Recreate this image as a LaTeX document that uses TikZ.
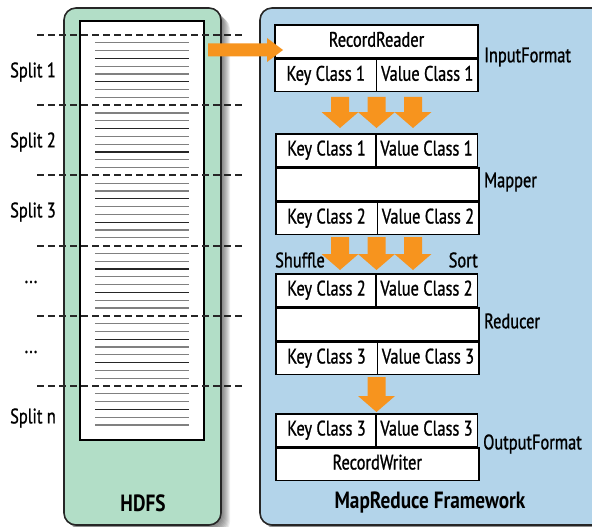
\documentclass[tikz,border=0pt]{standalone}
\usepackage{fontspec}
\setmainfont{PT Sans}[FakeStretch=0.78,FakeBold=1]
\newfontfamily\titlefont{PT Sans Bold}[FakeStretch=0.82]
\usetikzlibrary{calc}
\definecolor{hgreen}{HTML}{B2DEC7}
\definecolor{mblue}{HTML}{B3D4EA}
\definecolor{morange}{HTML}{F7941E}
\begin{document}
\begin{tikzpicture}[x=1pt,y=-1pt,
  font=\fontsize{21}{24}\selectfont,
  frame/.style={draw=black!85, line width=1.6, rounded corners=12},
  cell/.style={draw=black, line width=1.5, fill=white, inner sep=0, minimum height=32.5, text height=14, text depth=3},
  half/.style={cell, minimum width=101.5},
  wide/.style={cell, minimum width=203},
  side/.style={anchor=west, inner sep=0},
  splitlbl/.style={inner sep=0},
  split/.style={draw=black!85, line width=2, dash pattern=on 7 off 4},
  txtline/.style={line width=1.3},
  blockarrow/.style={fill=morange, draw=none},
  title/.style={font=\fontsize{23.5}{26}\titlefont, inner sep=0}
]
\useasboundingbox (0,0) rectangle (592,527);
\clip (0,0) rectangle (592,527);

% shadows
\foreach \i in {1,...,9}{
  \fill[black, opacity=0.07, rounded corners=12] (64+\i,8+\i) rectangle (221+\i,525+\i);
  \fill[black, opacity=0.07, rounded corners=12] (260+\i,8+\i) rectangle (640+\i,525+\i);
}

% containers
\draw[frame, fill=hgreen] (64,8) rectangle (221,525);
\draw[frame, fill=mblue] (260,8) rectangle (640,525);

% HDFS paper
\node[draw=black, line width=1.5, fill=white, minimum width=124, minimum height=419, inner sep=0] (paper) at (142,230.5) {};
\foreach \k in {1,...,50}{
  \pgfmathtruncatemacro{\r}{mod(\k,9)}
  \pgfmathtruncatemacro{\c}{mod(\k,3)}
  \ifnum\r>0
    \ifnum\c=0
      \draw[txtline, black!85] (95,{35+\k*7.8}) -- (189,{35+\k*7.8});
    \else
      \draw[txtline, black!50] (95,{35+\k*7.8}) -- (189,{35+\k*7.8});
    \fi
  \fi
}

% split lines and labels
\foreach \y in {35,105.2,175.4,245.6,315.8,386}{
  \draw[split] (37,\y) -- (245,\y);
}
\node[splitlbl] (s1) at (33,72) {Split 1};
\node[splitlbl] (s2) at (33,142) {Split 2};
\node[splitlbl] (s3) at (33,212) {Split 3};
\node[splitlbl] (s4) at (31,282) {...};
\node[splitlbl] (s5) at (31,352) {...};
\node[splitlbl] (sn) at (33,418) {Split n};

% InputFormat
\node[wide] (rr) at (376.5,41.25) {RecordReader};
\node[half, anchor=north west] (k1a) at (rr.south west) {Key Class 1};
\node[half, anchor=north east] (v1a) at (rr.south east) {Value Class 1};
\node[side] (inf) at (484,57) {InputFormat};

% Mapper
\node[half, anchor=north west] (k1b) at (275,133) {Key Class 1};
\node[half, anchor=north east] (v1b) at (478,133) {Value Class 1};
\node[wide, anchor=north west] (map) at (k1b.south west) {};
\node[half, anchor=north west] (k2a) at (map.south west) {Key Class 2};
\node[half, anchor=north east] (v2a) at (map.south east) {Value Class 2};
\node[side] (mapl) at (484,182) {Mapper};

% Reducer
\node[half, anchor=north west] (k2b) at (275,273) {Key Class 2};
\node[half, anchor=north east] (v2b) at (478,273) {Value Class 2};
\node[wide, anchor=north west] (red) at (k2b.south west) {};
\node[half, anchor=north west] (k3a) at (red.south west) {Key Class 3};
\node[half, anchor=north east] (v3a) at (red.south east) {Value Class 3};
\node[side] (redl) at (484,321) {Reducer};

% OutputFormat
\node[half, anchor=north west] (k3b) at (275,413) {Key Class 3};
\node[half, anchor=north east] (v3b) at (478,413) {Value Class 3};
\node[wide, anchor=north west] (rw) at (k3b.south west) {RecordWriter};
\node[side] (outl) at (483,444) {OutputFormat};

\node[side] (shuf) at (275,260) {Shuffle};
\node[anchor=east, inner sep=0] (sort) at (478,260) {Sort};

% block arrows
\foreach \cx/\ta/\tb in {340/97/128, 376.5/97/128, 413/97/128, 340/237/270, 376.5/237/270, 413/237/270, 376.5/377/412}{
  \fill[blockarrow] (\cx-9,\ta) -- (\cx+9,\ta) -- (\cx+9,\tb-16) -- (\cx+18.5,\tb-16) -- (\cx,\tb) -- (\cx-18.5,\tb-16) -- (\cx-9,\tb-16) -- cycle;
}
% HDFS -> RecordReader
\fill[blockarrow] (208,43.5) -- (267,43.5) -- (267,38) -- (283,50) -- (267,62) -- (267,56.5) -- (208,56.5) -- cycle;

% titles
\node[title] (hdfs) at (143,503) {HDFS};
\node[title] (mrf) at (430,503) {MapReduce Framework};
\end{tikzpicture}
\end{document}
